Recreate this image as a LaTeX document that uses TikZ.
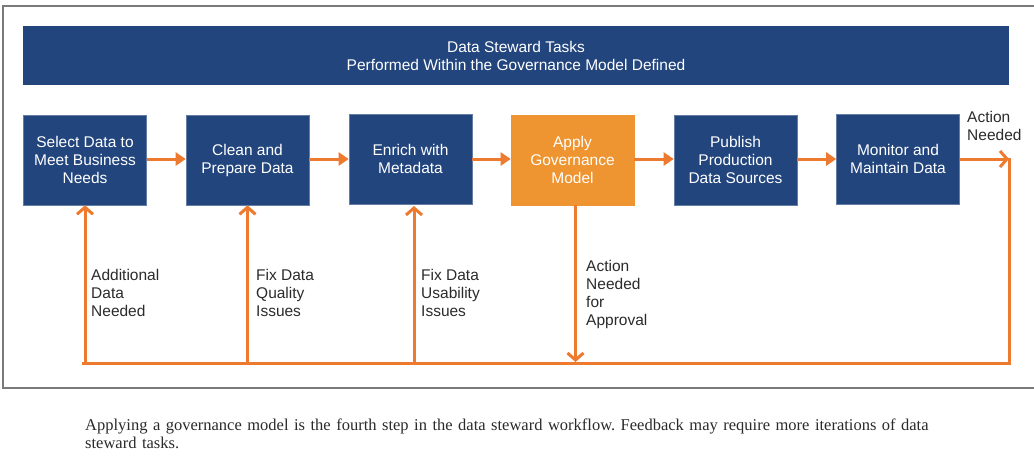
\documentclass[tikz,border=0pt]{standalone}
\usepackage{fontspec}
\setmainfont{Liberation Sans}
\newfontfamily\capfont{Liberation Serif}
\usetikzlibrary{arrows.meta}
\definecolor{navy}{HTML}{22457D}
\definecolor{arr}{HTML}{EE7A30}
\definecolor{obox}{HTML}{EE9430}
\definecolor{txt}{HTML}{2B2B2B}
\definecolor{frame}{HTML}{7A7A7A}
\tikzset{
  stepbox/.style={fill=navy, draw=navy!70!white, line width=0.6pt, minimum width=123pt, minimum height=90pt, text=white, align=center, inner sep=0pt, font=\fontsize{15.5}{18}\selectfont},
  flow/.style={draw=arr, line width=3pt, -{Triangle[length=10pt,width=13pt]}},
  barb/.style={draw=arr, line width=3pt, -{Straight Barb[length=7pt,width=16pt,line width=3pt]}},
  plain/.style={draw=arr, line width=3pt},
  lbl/.style={anchor=north west, align=left, inner sep=0pt, text=txt, font=\fontsize{15.5}{18}\selectfont},
}
\begin{document}
\begin{tikzpicture}[x=1pt,y=-1pt]
\useasboundingbox (0,0) rectangle (1034,464);
\fill[white] (0,0) rectangle (1034,464);
\draw[frame, line width=1.5pt] (1034,6) -- (3,6) -- (3,388) -- (1034,388);
\node[fill=navy, minimum width=986pt, minimum height=59pt, text=white, align=center, inner sep=0pt, font=\fontsize{15.5}{18}\selectfont] (hdr) at (516,55.5) {Data Steward Tasks\\Performed Within the Governance Model Defined};
\node[stepbox] (b1) at (85,160) {Select Data to\\Meet Business\\Needs};
\node[stepbox] (b2) at (247.5,160) {Clean and\\Prepare Data};
\node[stepbox] (b3) at (410.5,159) {Enrich with\\Metadata};
\node[stepbox, fill=obox, draw=obox] (b4) at (572.5,160) {Apply\\Governance\\Model};
\node[stepbox] (b5) at (735.5,160) {Publish\\Production\\Data Sources};
\node[stepbox] (b6) at (898,159) {Monitor and\\Maintain Data};
\coordinate (c1) at (1009,159);
\coordinate (c2) at (1009,363);
\coordinate (c3) at (82,363);
\draw[flow] (b1.east |- 0,159) -- (b2.west |- 0,159);
\draw[flow] (b2.east |- 0,159) -- (b3.west |- 0,159);
\draw[flow] (b3.east |- 0,159) -- (b4.west |- 0,159);
\draw[flow] (b4.east |- 0,159) -- (b5.west |- 0,159);
\draw[flow] (b5.east |- 0,159) -- (b6.west |- 0,159);
\draw[barb] (b6.east |- c1) -- (c1);
\draw[plain] (c1) ++(0,-1.5) -- (c2) -- (c3);
\draw[barb] (b1.south |- c3) -- (b1.south);
\draw[barb] (b2.south |- c3) -- (b2.south);
\draw[barb] (414,363) -- (414,206) coordinate (t3);
\draw[barb] (575.5,205) -- (575.5,362) coordinate (t4);
\node[lbl] (l1) at (91,269) {Additional\\Data\\Needed};
\node[lbl] (l2) at (256,269) {Fix Data\\Quality\\Issues};
\node[lbl] (l3) at (421,269) {Fix Data\\Usability\\Issues};
\node[lbl] (l4) at (586,260) {Action\\Needed\\for\\Approval};
\node[lbl] (l5) at (967,111) {Action\\Needed};
\node[anchor=north west, align=left, inner sep=0pt, text=txt, text width=870pt, font=\capfont\fontsize{16.5}{18}\selectfont\frenchspacing] (cap) at (85,419) {Applying a governance model is the fourth step in the data steward workflow. Feedback may require more iterations of data steward tasks.};
\end{tikzpicture}
\end{document}
